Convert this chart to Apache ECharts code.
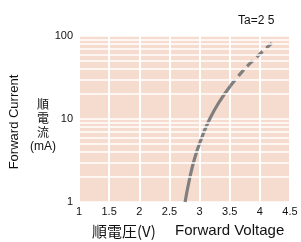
<!DOCTYPE html>
<html>
<head>
<meta charset="utf-8">
<script src="https://cdn.jsdelivr.net/npm/echarts@6/dist/echarts.min.js"></script>
<style>
  html, body { margin: 0; padding: 0; background: #fff; }
  #chart { width: 301px; height: 242px; }
</style>
</head>
<body>
<div id="chart"></div>
<script>
// forward voltage (V) / forward current (mA)
const solidVolt = [2.76, 2.83, 2.92, 3.04, 3.16, 3.315, 3.51]
const solidCurr = [1, 1.84, 3.39, 6.07, 9.72, 15.6, 25]
const dashVolt = [3.51, 3.66, 3.84, 4.2]
const dashCurr = [25, 34, 47, 82]
const xTicks = [1, 1.5, 2, 2.5, 3, 3.5, 4, 4.5]
const yTicks = [1, 10, 100]

const font = '"Liberation Sans", Arial, sans-serif'
const cjk = '"Noto Sans CJK JP", "Liberation Sans", sans-serif'

// white minor grid lines at 2..9 of each decade
const minorLines = []
for (const dec of [1, 10]) {
  for (let k = 2; k <= 9; k++) minorLines.push({ yAxis: k * dec })
}

const chart = echarts.init(document.getElementById('chart'), null, { renderer: 'canvas' })

chart.setOption({
  animation: false,
  grid: {
    left: 79,
    right: 11,
    top: 36,
    bottom: 40,
    show: true,
    backgroundColor: '#f6dccf',
    borderWidth: 0
  },
  xAxis: {
    type: 'value',
    min: xTicks[0],
    max: xTicks[xTicks.length - 1],
    interval: 0.5,
    axisLine: { show: false },
    axisTick: { show: false },
    axisLabel: { color: '#111', fontSize: 11, fontFamily: font, margin: 4 },
    splitLine: { show: true, lineStyle: { color: '#fff', width: 2 } }
  },
  yAxis: {
    type: 'log',
    logBase: 10,
    min: yTicks[0],
    max: yTicks[yTicks.length - 1],
    axisLine: { show: false },
    axisTick: { show: false },
    axisLabel: { color: '#111', fontSize: 11, fontFamily: font, margin: 6 },
    splitLine: { show: true, lineStyle: { color: '#fff', width: 1.5 } }
  },
  series: [
    {
      type: 'line',
      data: dashVolt.map((v, i) => [v, dashCurr[i]]),
      smooth: 0.5,
      symbol: 'none',
      lineStyle: { color: '#7f7f7f', width: 3.2, type: [8, 5] },
      markLine: {
        silent: true,
        symbol: 'none',
        label: { show: false },
        lineStyle: { color: '#fff', width: 1.5, type: 'solid' },
        data: minorLines
      },
      z: 3
    },
    {
      type: 'line',
      data: solidVolt.map((v, i) => [v, solidCurr[i]]),
      smooth: 0.5,
      symbol: 'none',
      lineStyle: { color: '#7f7f7f', width: 3.2 },
      z: 4
    }
  ],
  graphic: [
    {
      type: 'text', left: 238, top: 15,
      style: { text: 'Ta=2 5', font: '12px ' + font, fill: '#111' }
    },
    {
      type: 'text', x: 14, y: 122, rotation: Math.PI / 2,
      style: { text: 'Forward Current', font: '13px ' + font, fill: '#111', align: 'center', verticalAlign: 'middle' }
    },
    {
      type: 'text', x: 43, y: 104,
      style: { text: '順', font: '12px ' + cjk, fill: '#111', align: 'center', verticalAlign: 'middle' }
    },
    {
      type: 'text', x: 43, y: 118,
      style: { text: '電', font: '12px ' + cjk, fill: '#111', align: 'center', verticalAlign: 'middle' }
    },
    {
      type: 'text', x: 43, y: 132,
      style: { text: '流', font: '12px ' + cjk, fill: '#111', align: 'center', verticalAlign: 'middle' }
    },
    {
      type: 'text', x: 43, y: 147,
      style: { text: '(mA)', font: '12px ' + font, fill: '#111', align: 'center', verticalAlign: 'middle' }
    },
    {
      type: 'text', x: 92, y: 231,
      style: { text: '順電圧(V)', font: '15px ' + cjk, fill: '#111', verticalAlign: 'middle' }
    },
    {
      type: 'text', x: 175, y: 231,
      style: { text: 'Forward Voltage', font: '15px ' + font, fill: '#111', verticalAlign: 'middle' }
    }
  ]
})
</script>
</body>
</html>
